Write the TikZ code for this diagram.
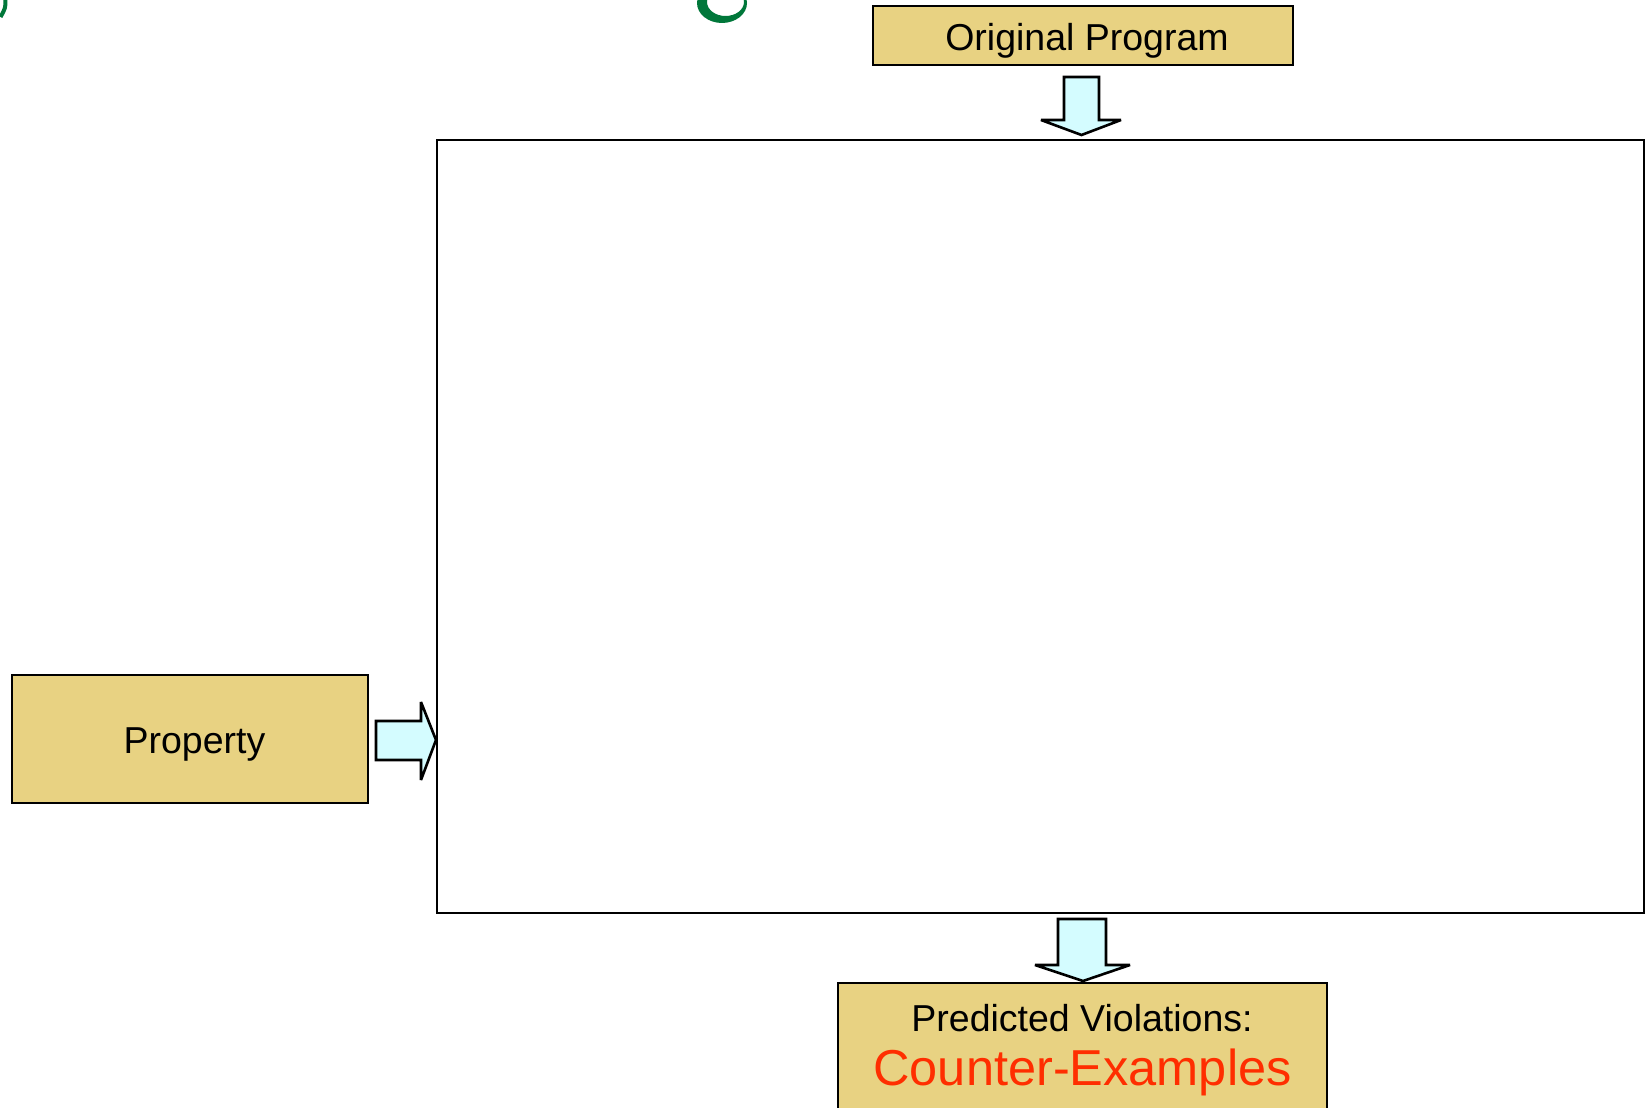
\documentclass[tikz,border=0pt]{standalone}
\usepackage{fontspec}
\setmainfont{Liberation Sans}
\definecolor{boxtan}{HTML}{E8D282}
\definecolor{arrowcyan}{HTML}{D4FCFF}
\definecolor{cered}{HTML}{FF2E00}
\definecolor{titlegreen}{HTML}{00773A}
\begin{document}
\begin{tikzpicture}[x=1pt,y=-1pt,
  tanbox/.style={draw=black,line width=2.6pt,fill=boxtan,inner sep=0pt},
  blockarrow/.style={draw=black,line width=2.6pt,fill=arrowcyan,line join=miter,miter limit=2.5},
  bigtext/.style={font=\fontsize{37.5}{44}\selectfont,anchor=base,inner sep=0pt},
  redtext/.style={font=\fontsize{50.5}{60}\selectfont,anchor=base,inner sep=0pt,text=cered}]
\useasboundingbox (0,0) rectangle (1650,1108);
\clip (0,0) rectangle (1650,1108);
\fill[white] (0,0) rectangle (1650,1108);
% fragments of a cut-off title
\draw[titlegreen,line width=4pt] (5.5,-1) .. controls (5.5,8) .. (0.5,17);
\fill[titlegreen,even odd rule] (722,3) ellipse (25 and 20) (725.5,2) ellipse (18.5 and 14);
% boxes
\node[tanbox,minimum width=420pt,minimum height=59pt] (orig) at (1083,35.5) {};
\node[bigtext] (origtxt) at (1087,51) {Original Program};
\node[tanbox,minimum width=356pt,minimum height=128pt] (prop) at (190,739) {};
\node[bigtext] (proptxt) at (194.5,753) {Property};
\node[draw=black,line width=2.8pt,fill=white,minimum width=1207pt,minimum height=773pt,inner sep=0pt]
  (main) at (1040.5,526.5) {};
\node[tanbox,minimum width=489pt,minimum height=147pt] (pred) at (1082.5,1056.5) {};
\node[bigtext] (predtxt) at (1082,1031) {Predicted Violations:};
\node[redtext] (cetxt) at (1082.5,1085) {Counter-Examples};
% block arrows
\draw[blockarrow] (1064,77) -- (1099,77) -- (1099,120) -- (1121,120) -- (1081.5,135)
  -- (1041,120) -- (1064,120) -- cycle;
\draw[blockarrow] (376,721) -- (421,721) -- (421,702) -- (436,740) -- (421,780)
  -- (421,760) -- (376,760) -- cycle;
\draw[blockarrow] (1058,919) -- (1106,919) -- (1106,965) -- (1130,965) -- (1083,981)
  -- (1035,965) -- (1058,965) -- cycle;
\end{tikzpicture}
\end{document}
